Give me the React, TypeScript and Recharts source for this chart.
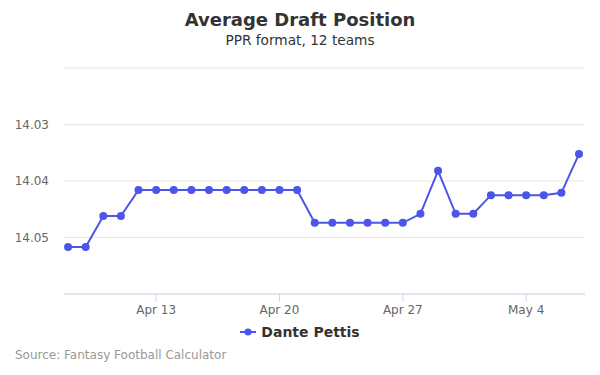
import React from "react";
import {
  LineChart,
  Line,
  XAxis,
  YAxis,
  CartesianGrid,
} from "recharts";

const dates = [
  "Apr 8", "Apr 9", "Apr 10", "Apr 11", "Apr 12", "Apr 13", "Apr 14", "Apr 15",
  "Apr 16", "Apr 17", "Apr 18", "Apr 19", "Apr 20", "Apr 21", "Apr 22", "Apr 23",
  "Apr 24", "Apr 25", "Apr 26", "Apr 27", "Apr 28", "Apr 29", "Apr 30", "May 1",
  "May 2", "May 3", "May 4", "May 5", "May 6", "May 7",
];

const adp = [
  14.0517, 14.0517, 14.0462, 14.0462, 14.0416, 14.0416, 14.0416, 14.0416,
  14.0416, 14.0416, 14.0416, 14.0416, 14.0416, 14.0416, 14.0474, 14.0474,
  14.0474, 14.0474, 14.0474, 14.0474, 14.0458, 14.0382, 14.0458, 14.0458,
  14.0425, 14.0425, 14.0425, 14.0425, 14.0421, 14.0352,
];

const xTicks = [5, 12, 19, 26];
const yTicks = [14.02, 14.03, 14.04, 14.05, 14.06];
const shownY = [14.03, 14.04, 14.05];

const data = dates.map((d, i) => ({ i, date: d, adp: adp[i] }));

const FONT = "'DejaVu Sans', sans-serif";
const BLUE = "#4b55e8";

export default function App() {
  return (
    <div
      style={{
        position: "absolute",
        left: 0,
        top: 0,
        width: 600,
        height: 375,
        fontFamily: FONT,
        background: "#fff",
      }}
    >
      <div
        style={{
          position: "absolute",
          top: 9,
          width: 600,
          textAlign: "center",
          fontSize: 18,
          fontWeight: "bold",
          color: "#333",
        }}
      >
        Average Draft Position
      </div>
      <div
        style={{
          position: "absolute",
          top: 32,
          width: 600,
          textAlign: "center",
          fontSize: 13.7,
          color: "#333",
        }}
      >
        PPR format, 12 teams
      </div>
      <LineChart
        width={600}
        height={375}
        data={data}
        margin={{ top: 68, right: 15, left: 0, bottom: 51 }}
        style={{ fontFamily: FONT }}
      >
        <CartesianGrid stroke="#e6e6e6" vertical={false} />
        <XAxis
          dataKey="i"
          type="number"
          domain={[-0.23, 29.34]}
          allowDataOverflow
          ticks={xTicks}
          tickFormatter={(v) => dates[v]}
          height={30}
          stroke="#ccd6eb"
          tickSize={8}
          tickMargin={3}
          tick={{ fill: "#666", fontSize: 12 }}
        />
        <YAxis
          type="number"
          reversed
          domain={[14.02, 14.06]}
          ticks={yTicks}
          interval={0}
          tickFormatter={(v) => (shownY.includes(v) ? v.toFixed(2) : "")}
          width={64}
          axisLine={false}
          tickLine={false}
          tickSize={0}
          tickMargin={15}
          tick={{ fill: "#666", fontSize: 12 }}
        />
        <Line
          type="linear"
          dataKey="adp"
          stroke={BLUE}
          strokeWidth={2}
          dot={{ r: 4, fill: BLUE, stroke: BLUE, strokeWidth: 0 }}
          activeDot={false}
          isAnimationActive={false}
        />
      </LineChart>
      <div
        style={{
          position: "absolute",
          top: 324,
          width: 600,
          display: "flex",
          justifyContent: "center",
          alignItems: "center",
          fontSize: 14,
          fontWeight: "bold",
          color: "#333",
        }}
      >
        <svg width={16} height={12} style={{ marginRight: 5 }}>
          <line x1={0} y1={6} x2={16} y2={6} stroke={BLUE} strokeWidth={2} />
          <circle cx={8} cy={6} r={3.5} fill={BLUE} />
        </svg>
        Dante Pettis
      </div>
      <div
        style={{
          position: "absolute",
          left: 15,
          top: 348,
          fontSize: 12,
          color: "#999",
        }}
      >
        Source: Fantasy Football Calculator
      </div>
    </div>
  );
}
